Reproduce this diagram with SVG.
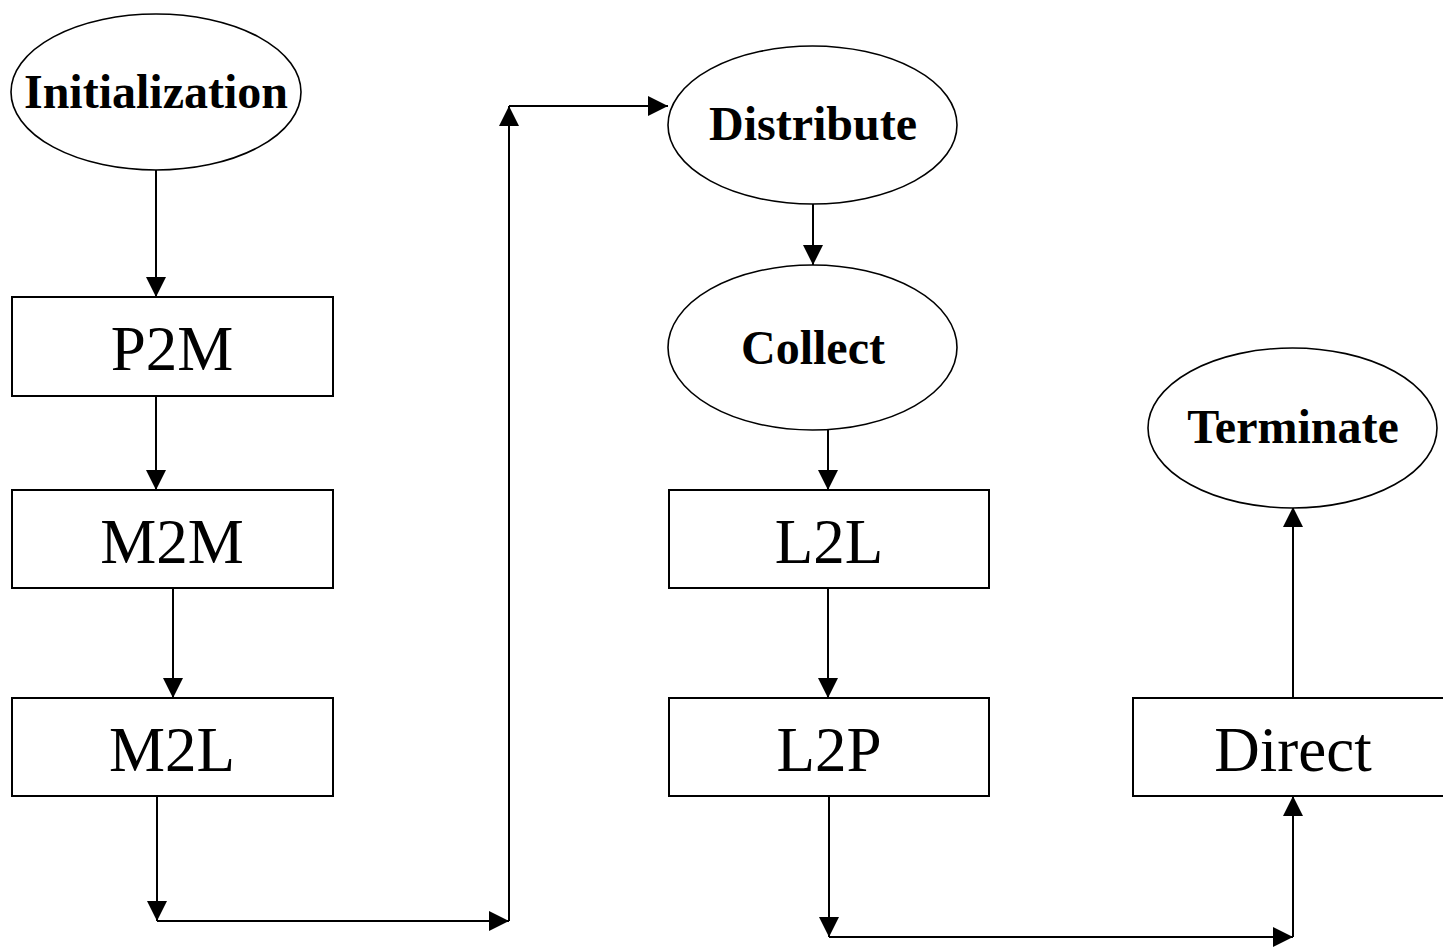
<svg xmlns="http://www.w3.org/2000/svg" width="1443" height="948" viewBox="0 0 1443 948">
  <style>
    .shape { fill: #fff; stroke: #000; stroke-width: 2; }
    .oval { fill: #fff; stroke: #000; stroke-width: 1.6; }
    .step { font-family: "Liberation Serif", "Times New Roman", serif; font-size: 63px; text-anchor: middle; fill: #000; }
    .phase { font-family: "Liberation Serif", "Times New Roman", serif; font-size: 48px; font-weight: bold; text-anchor: middle; fill: #000; }
    .link { fill: none; stroke: #000; stroke-width: 2; }
  </style>
  <defs>
    <marker id="head" viewBox="0 0 20 20" refX="20" refY="10" markerWidth="20" markerHeight="20" markerUnits="userSpaceOnUse" orient="auto">
      <path d="M0,0 L20,10 L0,20 Z" fill="#000"/>
    </marker>
  </defs>
  <rect width="1443" height="948" fill="#fff"/>

  <g id="connectors">
    <path class="link" d="M156,170 V297" marker-end="url(#head)"/>
    <path class="link" d="M156,396 V490" marker-end="url(#head)"/>
    <path class="link" d="M173,588 V698" marker-end="url(#head)"/>
    <path class="link" d="M157,796 V921" marker-end="url(#head)"/>
    <path class="link" d="M157,921 H509" marker-end="url(#head)"/>
    <path class="link" d="M509,921 V106" marker-end="url(#head)"/>
    <path class="link" d="M509,106 H668" marker-end="url(#head)"/>
    <path class="link" d="M813,204 V265" marker-end="url(#head)"/>
    <path class="link" d="M828,430 V490" marker-end="url(#head)"/>
    <path class="link" d="M828,588 V698" marker-end="url(#head)"/>
    <path class="link" d="M829,796 V937" marker-end="url(#head)"/>
    <path class="link" d="M829,937 H1293" marker-end="url(#head)"/>
    <path class="link" d="M1293,937 V796" marker-end="url(#head)"/>
    <path class="link" d="M1293,698 V507" marker-end="url(#head)"/>
  </g>

  <g id="initialization">
    <ellipse class="oval" cx="156" cy="92" rx="145" ry="78"/>
    <text class="phase" x="156" y="108">Initialization</text>
  </g>
  <g id="p2m">
    <rect class="shape" x="12" y="297" width="321" height="99"/>
    <text class="step" x="172" y="370">P2M</text>
  </g>
  <g id="m2m">
    <rect class="shape" x="12" y="490" width="321" height="98"/>
    <text class="step" x="172" y="563">M2M</text>
  </g>
  <g id="m2l">
    <rect class="shape" x="12" y="698" width="321" height="98"/>
    <text class="step" x="172" y="771">M2L</text>
  </g>
  <g id="distribute">
    <ellipse class="oval" cx="812.5" cy="125" rx="144.5" ry="79"/>
    <text class="phase" x="813" y="140">Distribute</text>
  </g>
  <g id="collect">
    <ellipse class="oval" cx="812.5" cy="347.5" rx="144.5" ry="82.5"/>
    <text class="phase" x="813" y="364">Collect</text>
  </g>
  <g id="l2l">
    <rect class="shape" x="669" y="490" width="320" height="98"/>
    <text class="step" x="829" y="563">L2L</text>
  </g>
  <g id="l2p">
    <rect class="shape" x="669" y="698" width="320" height="98"/>
    <text class="step" x="829" y="771">L2P</text>
  </g>
  <g id="terminate">
    <ellipse class="oval" cx="1292.5" cy="428" rx="144.5" ry="80"/>
    <text class="phase" x="1293" y="443">Terminate</text>
  </g>
  <g id="direct">
    <rect class="shape" x="1133" y="698" width="330" height="98"/>
    <text class="step" x="1293" y="771">Direct</text>
  </g>
</svg>
